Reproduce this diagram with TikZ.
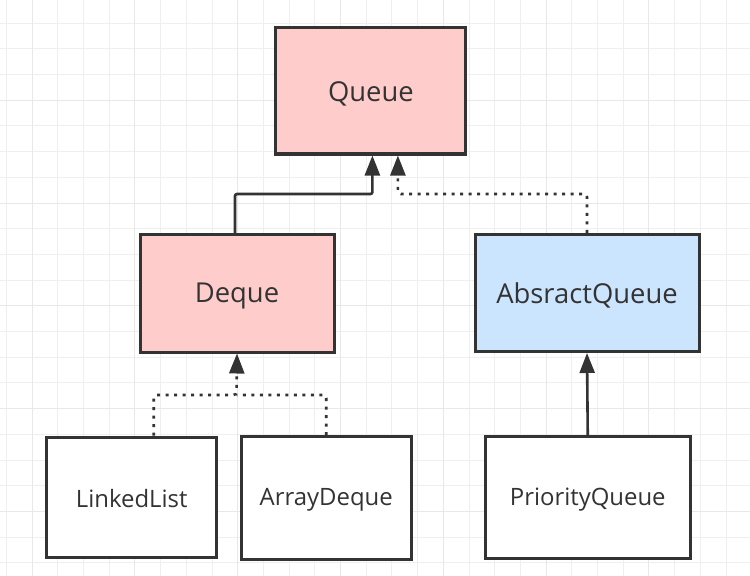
\documentclass[tikz,border=0pt]{standalone}
\usepackage{fontspec}
\setmainfont{Open Sans}
\usetikzlibrary{arrows.meta}
\definecolor{strokec}{HTML}{333333}
\definecolor{pinkc}{HTML}{FFCCCC}
\definecolor{bluec}{HTML}{CCE5FF}
\definecolor{gridminor}{HTML}{EFEFEF}
\definecolor{gridmajor}{HTML}{E8E8E8}
\newcommand{\lowtext}[2]{\raisebox{-#1}[\height][\depth]{#2}}
\tikzset{
  box/.style={draw=strokec, line width=3bp, text=strokec, inner sep=0pt},
  bigtext/.style={font=\fontsize{27.5}{32}\selectfont},
  smalltext/.style={font=\fontsize{24}{28}\selectfont},
  conn/.style={draw=strokec, line width=2.6bp, rounded corners=2bp, -{Triangle[length=20bp,width=15bp]}},
  dotconn/.style={conn, dash pattern=on 3bp off 5.5bp, rounded corners=3bp},
  gminor/.style={draw=gridminor, line width=1bp},
  gmajor/.style={draw=gridmajor, line width=1bp}
}
\begin{document}
\begin{tikzpicture}[x=1bp,y=-1bp]
\useasboundingbox (0,0) rectangle (750,576);
\fill[white] (0,0) rectangle (750,576);
% grid
\foreach \k in {0,...,29} {
  \pgfmathsetmacro\xx{round(6+25.7*\k)+0.5}
  \draw[gminor] (\xx,0) -- (\xx,576);
}
\foreach \k in {1,...,22} {
  \pgfmathsetmacro\yy{round(-3+25.7*\k)+0.5}
  \draw[gminor] (0,\yy) -- (750,\yy);
}
\foreach \k in {1,5,...,29} {
  \pgfmathsetmacro\xx{round(6+25.7*\k)+0.5}
  \draw[gmajor] (\xx,0) -- (\xx,576);
}
\foreach \k in {4,8,...,20} {
  \pgfmathsetmacro\yy{round(-3+25.7*\k)+0.5}
  \draw[gmajor] (0,\yy) -- (750,\yy);
}
% nodes
\node[box, fill=pinkc, bigtext, minimum width=190bp, minimum height=126bp] (q) at (370.9,91) {\lowtext{3bp}{Queue}};
\node[box, fill=pinkc, bigtext, minimum width=194bp, minimum height=117bp] (dq) at (237,293.5) {\lowtext{3bp}{Deque}};
\node[box, fill=bluec, bigtext, minimum width=224bp, minimum height=117bp] (aq) at (587,293) {\lowtext{2bp}{AbsractQueue}};
\node[box, fill=white, smalltext, minimum width=169.5bp, minimum height=120.5bp] (ll) at (131.75,497.25) {\lowtext{1bp}{LinkedList}};
\node[box, fill=white, smalltext, minimum width=169.5bp, minimum height=122.5bp] (ad) at (326.25,497.75) {\lowtext{2bp}{ArrayDeque}};
\node[box, fill=white, smalltext, minimum width=204.5bp, minimum height=122bp] (pq) at (587.75,497.5) {\lowtext{2bp}{PriorityQueue}};
% junction points
\coordinate (j1) at (300,194);
\coordinate (j2) at (500,194);
\coordinate (j3) at (236.5,395);
\coordinate (dqtop) at ([xshift=-2bp]dq.north);
\coordinate (qin1) at ([xshift=1.5bp]q.south);
\coordinate (qin2) at ([xshift=27bp]q.south);
\coordinate (lltop) at ([xshift=22bp]ll.north);
% connectors
\draw[conn] (dqtop) |- (j1) -| (qin1);
\draw[dotconn] (aq.north) |- (j2) -| (qin2);
\draw[dotconn] (lltop) |- (j3) -- (dq.south);
\draw[dotconn, -] (ad.north) |- (j3);
\draw[conn] (pq.north) -- (aq.south);
\end{tikzpicture}
\end{document}
